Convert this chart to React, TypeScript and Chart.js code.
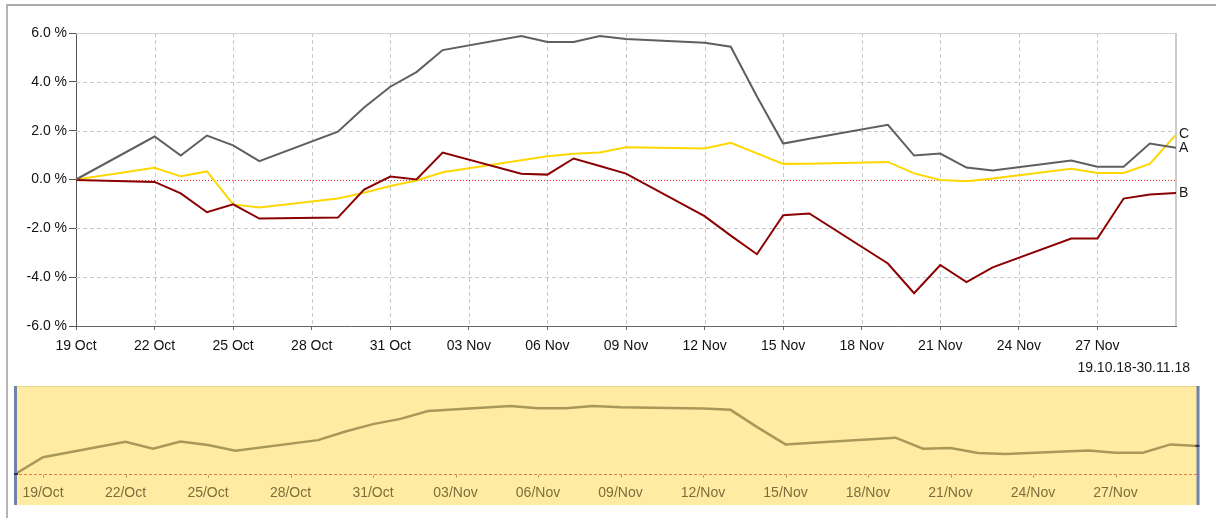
import React, { useEffect, useRef } from 'react';
import { Chart, registerables } from 'chart.js';

Chart.register(...registerables);

// ---------- data ----------
const START_DATE = '2018-10-19';
const END_DATE = '2018-11-30';
const NAV_START_DATE = '2018-10-18';

const TRADING_DATES = [
  '2018-10-19', '2018-10-22', '2018-10-23', '2018-10-24', '2018-10-25', '2018-10-26',
  '2018-10-29', '2018-10-30', '2018-10-31', '2018-11-01', '2018-11-02',
  '2018-11-05', '2018-11-06', '2018-11-07', '2018-11-08', '2018-11-09',
  '2018-11-12', '2018-11-13', '2018-11-14', '2018-11-15', '2018-11-16',
  '2018-11-19', '2018-11-20', '2018-11-21', '2018-11-22', '2018-11-23',
  '2018-11-26', '2018-11-27', '2018-11-28', '2018-11-29', '2018-11-30',
];

const SERIES_NAMES = ['A', 'B', 'C'];
const SERIES_COLORS = ['#5f5f5f', '#8b0000', '#ffd700'];

const SERIES_A = [
  0.0, 1.76, 0.98, 1.8, 1.4, 0.75,
  1.96, 2.95, 3.8, 4.4, 5.3,
  5.88, 5.63, 5.63, 5.88, 5.75,
  5.6, 5.44, 3.4, 1.47, 1.67,
  2.24, 0.98, 1.06, 0.49, 0.37,
  0.78, 0.52, 0.52, 1.47, 1.3,
];

const SERIES_B = [
  -0.02, -0.1, -0.57, -1.34, -1.02, -1.6,
  -1.56, -0.41, 0.12, 0.0, 1.1,
  0.24, 0.2, 0.86, 0.55, 0.24,
  -1.5, -2.3, -3.06, -1.46, -1.39,
  -3.44, -4.66, -3.5, -4.2, -3.6,
  -2.42, -2.42, -0.78, -0.61, -0.55,
];

const SERIES_C = [
  0.0, 0.48, 0.13, 0.33, -1.02, -1.15,
  -0.78, -0.54, -0.27, -0.04, 0.3,
  0.79, 0.95, 1.05, 1.11, 1.32,
  1.27, 1.5, 1.07, 0.64, 0.65,
  0.72, 0.25, -0.02, -0.07, 0.04,
  0.44, 0.27, 0.27, 0.64, 1.84,
];

const NAV_DATES = [NAV_START_DATE, ...TRADING_DATES];
const NAV_VALUES = [
  0.0,
  1.93, 3.69, 2.91, 3.73, 3.33, 2.68,
  3.89, 4.88, 5.73, 6.33, 7.23,
  7.81, 7.56, 7.56, 7.81, 7.68,
  7.53, 7.37, 5.33, 3.4, 3.6,
  4.17, 2.91, 2.99, 2.42, 2.3,
  2.71, 2.45, 2.45, 3.4, 3.23,
];

const X_TICK_DATES = [
  '2018-10-19', '2018-10-22', '2018-10-25', '2018-10-28', '2018-10-31',
  '2018-11-03', '2018-11-06', '2018-11-09', '2018-11-12', '2018-11-15',
  '2018-11-18', '2018-11-21', '2018-11-24', '2018-11-27',
];
const X_TICK_LABELS = [
  '19 Oct', '22 Oct', '25 Oct', '28 Oct', '31 Oct', '03 Nov', '06 Nov',
  '09 Nov', '12 Nov', '15 Nov', '18 Nov', '21 Nov', '24 Nov', '27 Nov',
];
const NAV_TICK_LABELS = [
  '19/Oct', '22/Oct', '25/Oct', '28/Oct', '31/Oct', '03/Nov', '06/Nov',
  '09/Nov', '12/Nov', '15/Nov', '18/Nov', '21/Nov', '24/Nov', '27/Nov',
];
const Y_TICKS = [-6, -4, -2, 0, 2, 4, 6];
const RANGE_LABEL = '19.10.18-30.11.18';

// ---------- helpers ----------
const DAY = 86400000;
const dayOffset = (s: string) => (Date.parse(s) - Date.parse(START_DATE)) / DAY;
const X_TICK_VALUES = X_TICK_DATES.map(dayOffset);
const FONT = '"Liberation Sans", Arial, sans-serif';

const mainDecor = {
  id: 'mainDecor',
  beforeDatasetsDraw(chart: any) {
    const { ctx, chartArea: a, scales } = chart;
    const x = scales.x;
    const y = scales.y;
    ctx.save();
    ctx.lineWidth = 1;
    ctx.strokeStyle = '#c8c8c8';
    ctx.setLineDash([4, 3]);
    x.ticks.forEach((t: any) => {
      if (t.value === x.min) return;
      const px = Math.round(x.getPixelForValue(t.value)) + 0.5;
      ctx.beginPath();
      ctx.moveTo(px, a.top);
      ctx.lineTo(px, a.bottom);
      ctx.stroke();
    });
    y.ticks.forEach((t: any) => {
      if (t.value === y.min || t.value === y.max || t.value === 0) return;
      const py = Math.round(y.getPixelForValue(t.value)) + 0.5;
      ctx.beginPath();
      ctx.moveTo(a.left, py);
      ctx.lineTo(a.right, py);
      ctx.stroke();
    });
    ctx.setLineDash([]);
    ctx.strokeStyle = '#d0d0d0';
    const pTop = Math.round(y.getPixelForValue(y.max)) + 0.5;
    ctx.beginPath();
    ctx.moveTo(a.left, pTop);
    ctx.lineTo(a.right, pTop);
    ctx.stroke();
    ctx.lineWidth = 2;
    ctx.strokeStyle = '#cccccc';
    ctx.beginPath();
    ctx.moveTo(a.right, a.top);
    ctx.lineTo(a.right, a.bottom);
    ctx.stroke();
    ctx.lineWidth = 1;
    ctx.strokeStyle = '#ff2a2a';
    ctx.setLineDash([1, 2]);
    const p0 = Math.round(y.getPixelForValue(0)) + 0.5;
    ctx.beginPath();
    ctx.moveTo(a.left, p0);
    ctx.lineTo(a.right, p0);
    ctx.stroke();
    ctx.restore();
  },
  afterDatasetsDraw(chart: any) {
    const { ctx, chartArea: a } = chart;
    ctx.save();
    ctx.fillStyle = '#1a1a1a';
    ctx.font = `14px ${FONT}`;
    ctx.textBaseline = 'middle';
    ctx.textAlign = 'left';
    chart.data.datasets.forEach((ds: any, i: number) => {
      const meta = chart.getDatasetMeta(i);
      const pt = meta.data[meta.data.length - 1];
      ctx.fillText(SERIES_NAMES[i], a.right + 3, pt.y);
    });
    ctx.textAlign = 'right';
    ctx.fillText(RANGE_LABEL, a.right + 14, a.bottom + 42);
    ctx.restore();
  },
};

const navDecor = {
  id: 'navDecor',
  beforeDraw(chart: any) {
    const { ctx, chartArea: a, scales } = chart;
    const x = scales.x;
    const y = scales.y;
    const left = a.left - 1.5;
    const right = a.right + 1.5;
    const top = a.top;
    const bottom = x.bottom;
    ctx.save();
    ctx.fillStyle = '#ffeca2';
    ctx.fillRect(left, top, right - left, bottom - top);
    ctx.strokeStyle = '#e8d68a';
    ctx.lineWidth = 1;
    ctx.beginPath();
    ctx.moveTo(left, top + 0.5);
    ctx.lineTo(right, top + 0.5);
    ctx.stroke();
    const p0 = Math.round(y.getPixelForValue(0)) + 0.5;
    ctx.strokeStyle = '#ea7a3e';
    ctx.setLineDash([3, 2]);
    ctx.beginPath();
    ctx.moveTo(left, p0);
    ctx.lineTo(right, p0);
    ctx.stroke();
    ctx.setLineDash([]);
    ctx.strokeStyle = '#9a8a50';
    x.ticks.forEach((t: any) => {
      const px = Math.round(x.getPixelForValue(t.value)) + 0.5;
      ctx.beginPath();
      ctx.moveTo(px, p0 + 1);
      ctx.lineTo(px, p0 + 3);
      ctx.stroke();
    });
    ctx.restore();
  },
  afterDraw(chart: any) {
    const { ctx, chartArea: a, scales } = chart;
    const x = scales.x;
    const left = a.left - 1.5;
    const right = a.right + 1.5;
    ctx.save();
    ctx.fillStyle = '#7382ad';
    ctx.fillRect(left, a.top, 3, x.bottom - a.top);
    ctx.fillRect(right - 3, a.top, 3, x.bottom - a.top);
    const meta = chart.getDatasetMeta(0);
    const first = meta.data[0];
    const last = meta.data[meta.data.length - 1];
    ctx.fillStyle = '#2d3352';
    ctx.fillRect(left, first.y - 1, 4, 2);
    ctx.fillRect(right - 4, last.y - 1, 4, 2);
    ctx.restore();
  },
};

export default function App() {
  const mainRef = useRef<HTMLCanvasElement>(null);
  const navRef = useRef<HTMLCanvasElement>(null);

  useEffect(() => {
    const xs = TRADING_DATES.map(dayOffset);
    const seriesValues = [SERIES_A, SERIES_B, SERIES_C];
    const main = new Chart(mainRef.current as HTMLCanvasElement, {
      type: 'line',
      data: {
        datasets: seriesValues.map((vals, i) => ({
          label: SERIES_NAMES[i],
          data: vals.map((v, j) => ({ x: xs[j], y: v })),
          borderColor: SERIES_COLORS[i],
          backgroundColor: SERIES_COLORS[i],
          borderWidth: 2,
          pointRadius: 0,
          tension: 0,
          fill: false,
        })),
      },
      plugins: [mainDecor],
      options: {
        animation: false,
        responsive: false,
        events: [],
        layout: { padding: { left: 0, right: 40, top: 33, bottom: 24 } },
        plugins: { legend: { display: false }, tooltip: { enabled: false } },
        scales: {
          x: {
            type: 'linear',
            min: 0,
            max: dayOffset(END_DATE),
            afterBuildTicks: (axis: any) => {
              axis.ticks = X_TICK_VALUES.map((v) => ({ value: v }));
            },
            afterFit: (axis: any) => {
              axis.height = 30;
            },
            ticks: {
              autoSkip: false,
              maxRotation: 0,
              padding: 8,
              color: '#111111',
              font: { family: FONT, size: 14 },
              callback: (v: any) => {
                const i = X_TICK_VALUES.indexOf(Number(v));
                return i >= 0 ? X_TICK_LABELS[i] : '';
              },
            },
            grid: { drawOnChartArea: false, drawTicks: true, tickLength: 4, tickColor: '#666666', tickWidth: 1 },
            border: { display: true, color: '#666666', width: 1 },
          },
          y: {
            type: 'linear',
            min: Y_TICKS[0],
            max: Y_TICKS[Y_TICKS.length - 1],
            afterBuildTicks: (axis: any) => {
              axis.ticks = Y_TICKS.map((v) => ({ value: v }));
            },
            afterFit: (axis: any) => {
              axis.width = 76;
            },
            ticks: {
              padding: 2,
              color: '#111111',
              font: { family: FONT, size: 14 },
              callback: (v: any) => `${Number(v).toFixed(1)} %`,
            },
            grid: { drawOnChartArea: false, drawTicks: true, tickLength: 7, tickColor: '#555555', tickWidth: 1 },
            border: { display: true, color: '#555555', width: 1 },
          },
        },
      } as any,
    });

    const navXs = NAV_DATES.map(dayOffset);
    const nav = new Chart(navRef.current as HTMLCanvasElement, {
      type: 'line',
      data: {
        datasets: [
          {
            data: NAV_VALUES.map((v, j) => ({ x: navXs[j], y: v })),
            borderColor: '#a8995a',
            borderWidth: 2.5,
            pointRadius: 0,
            tension: 0,
            fill: false,
          },
        ],
      },
      plugins: [navDecor],
      options: {
        animation: false,
        responsive: false,
        events: [],
        layout: { padding: { left: 15.5, right: 18, top: 6, bottom: 13 } },
        plugins: { legend: { display: false }, tooltip: { enabled: false } },
        scales: {
          x: {
            type: 'linear',
            min: dayOffset(NAV_START_DATE),
            max: dayOffset(END_DATE),
            afterBuildTicks: (axis: any) => {
              axis.ticks = X_TICK_VALUES.map((v) => ({ value: v }));
            },
            afterFit: (axis: any) => {
              axis.height = 25;
            },
            ticks: {
              autoSkip: false,
              maxRotation: 0,
              padding: 5,
              color: '#7d6d3c',
              font: { family: FONT, size: 14 },
              callback: (v: any) => {
                const i = X_TICK_VALUES.indexOf(Number(v));
                return i >= 0 ? NAV_TICK_LABELS[i] : '';
              },
            },
            grid: { display: false, drawTicks: false, tickLength: 0 },
            border: { display: false },
          },
          y: {
            type: 'linear',
            display: false,
            min: -0.69,
            max: 10.11,
          },
        },
      } as any,
    });

    return () => {
      main.destroy();
      nav.destroy();
    };
  }, []);

  return (
    <div
      style={{
        position: 'absolute',
        left: 0,
        top: 0,
        width: 1216,
        height: 518,
        overflow: 'hidden',
        background: '#ffffff',
      }}
    >
      <div
        style={{
          position: 'absolute',
          left: 6,
          top: 4,
          width: 1400,
          height: 700,
          borderTop: '2px solid #a9a9a9',
          borderLeft: '2px solid #b4b4b4',
        }}
      />
      <canvas ref={mainRef} width={1216} height={380} style={{ position: 'absolute', left: 0, top: 0 }} />
      <canvas ref={navRef} width={1216} height={138} style={{ position: 'absolute', left: 0, top: 380 }} />
    </div>
  );
}
